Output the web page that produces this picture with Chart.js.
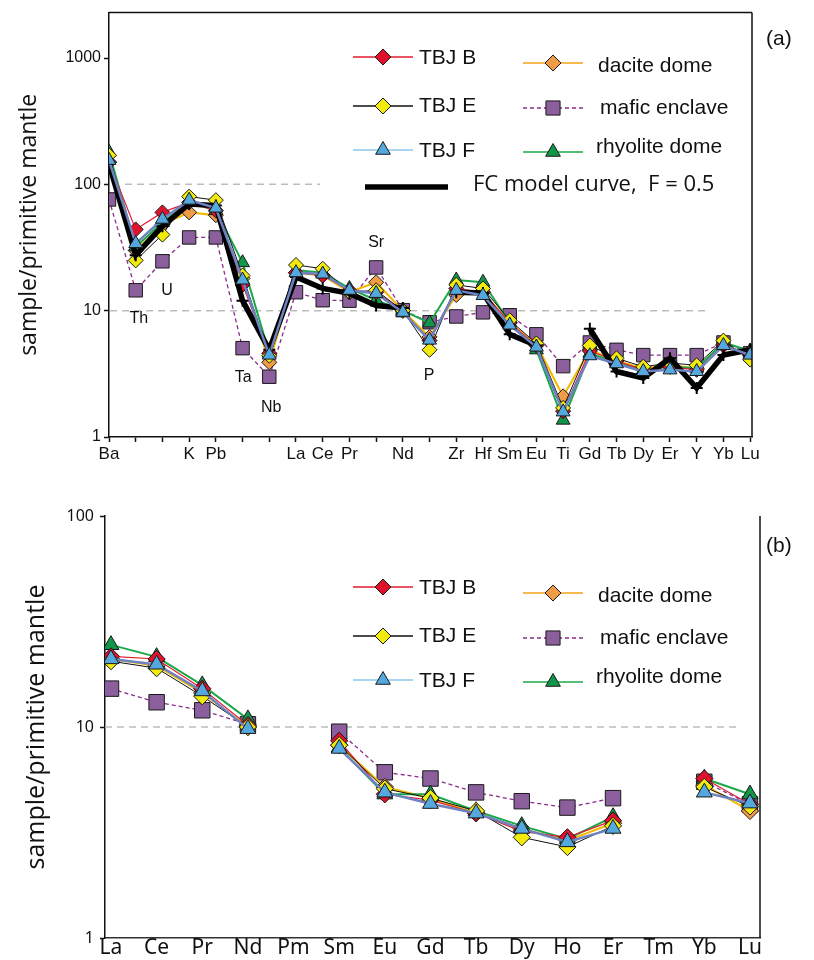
<!DOCTYPE html>
<html>
<head>
<meta charset="utf-8">
<script src="https://cdn.jsdelivr.net/npm/chart.js@4.4.1/dist/chart.umd.min.js"></script>
<style>
  html, body { margin: 0; padding: 0; background: #fff; }
  body { width: 814px; height: 960px; position: relative; overflow: hidden; }
  .panel { position: absolute; left: 0; width: 814px; }
  #panelA { top: 0; height: 470px; }
  #panelB { top: 470px; height: 490px; }
  .tag { position: absolute; font: 21px "Liberation Sans", Arial, sans-serif; color: #111; }
</style>
</head>
<body>
<div class="panel" id="panelA"><canvas id="spiderChart" width="814" height="470"></canvas></div>
<div class="panel" id="panelB"><canvas id="reeChart" width="814" height="490"></canvas></div>
<div class="tag" style="left:766px; top:26px;">(a)</div>
<div class="tag" style="left:766px; top:533px;">(b)</div>

<script>
// ---- panel (a): multi-element spider diagram ----
const spiderElements = ["Ba", "Th", "U", "K", "Pb", "Ta", "Nb", "La", "Ce", "Pr", "Sr", "Nd", "P",
  "Zr", "Hf", "Sm", "Eu", "Ti", "Gd", "Tb", "Dy", "Er", "Y", "Yb", "Lu"];
const spiderTickLabels = ["Ba", "", "", "K", "Pb", "", "", "La", "Ce", "Pr", "", "Nd", "",
  "Zr", "Hf", "Sm", "Eu", "Ti", "Gd", "Tb", "Dy", "Er", "Y", "Yb", "Lu"];
const spiderYTicks = [1, 10, 100, 1000];

const spiderTBJB = [150, 44, 60, 72, 62, 16, 4.6, 20, 19, 14.5, 14, 10, 5.8, 15, 14, 8, 5.3, 1.6, 4.8, 4.0, 3.4, 3.6, 3.4, 5.3, 4.5];
const spiderTBJE = [170, 25, 40, 80, 75, 19, 4.4, 23, 21.5, 14, 14.5, 10, 4.9, 16, 15, 8.4, 5.5, 1.7, 5.3, 4.2, 3.6, 3.85, 3.7, 5.8, 4.1];
const spiderTBJF = [155, 34, 53, 75, 65, 17.5, 4.45, 20, 19.5, 14.5, 13.7, 9.7, 5.85, 14.5, 13.2, 7.7, 5.15, 1.58, 4.4, 3.8, 3.3, 3.4, 3.3, 5.3, 4.45];
const spiderDacite = [150, 30, 48, 60, 57, 18, 3.9, 20, 19, 14, 16.8, 10, 6.2, 13.3, 14, 8, 5.4, 2.1, 4.9, 4.0, 3.5, 3.7, 3.5, 5.4, 4.4];
const spiderMafic = [76, 14.5, 24.6, 38, 38, 5.05, 3.0, 14, 12.1, 12, 22, 10.1, 8.1, 9.0, 9.7, 9.2, 6.5, 3.64, 5.6, 4.9, 4.45, 4.45, 4.45, 5.6, 4.6];
const spiderRhyolite = [180, 32, 50, 72, 62, 24, 4.6, 21, 20, 15, 12.1, 10, 8, 17.5, 16.8, 8, 4.9, 1.36, 4.6, 3.9, 3.4, 3.6, 3.5, 5.6, 4.8];
const spiderFCModel = [145, 27.5, 46.6, 70, 68, 12, 4.9, 18.5, 15, 13.7, 11, 10.5, null, 14, 13.8, 6.5, 5.3, null, 7.2, 3.3, 2.93, 4.2, 2.44, 4.45, 4.9];

// ---- panel (b): REE pattern ----
const reeElements = ["La", "Ce", "Pr", "Nd", "Pm", "Sm", "Eu", "Gd", "Tb", "Dy", "Ho", "Er", "Tm", "Yb", "Lu"];
const reeYTicks = [1, 10, 100];

const reeTBJB = [21.6, 21, 15.2, 10.2, null, 8.6, 4.8, 4.5, 3.9, 3.2, 3.0, 3.6, null, 5.7, 4.3];
const reeTBJE = [20.5, 19, 14, 10, null, 8.2, 5.1, 4.6, 4.0, 3.0, 2.7, 3.4, null, 5.2, 4.2];
const reeTBJF = [21, 19.8, 14.8, 9.8, null, 7.9, 4.9, 4.33, 3.9, 3.3, 2.85, 3.3, null, 4.9, 4.35];
const reeDacite = [21, 19.5, 14.5, 10, null, 8.2, 5.2, 4.6, 3.9, 3.3, 2.9, 3.5, null, 5.3, 4.0];
const reeMafic = [15.2, 13.1, 12.0, 10.3, null, 9.5, 6.1, 5.7, 4.9, 4.45, 4.15, 4.6, null, 5.5, 4.3];
const reeRhyolite = [24.5, 21.5, 15.8, 10.9, null, 8.0, 4.8, 4.8, 4.0, 3.4, 2.95, 3.75, null, 5.7, 4.8];

// ---- shared series look ----
const STYLES = {
  tbjB:     { label: "TBJ B", line: "#e21b2e", legendLine: "#e21b2e", fill: "#e0112b", point: "rectRot", width: 1.2, dash: [], order: 3 },
  tbjE:     { label: "TBJ E", line: "#111111", legendLine: "#111111", fill: "#f1ea0c", point: "rectRot", width: 1, dash: [], order: 2 },
  tbjF:     { label: "TBJ F", line: "#6e82c2", legendLine: "#a9d5f3", fill: "#55a8de", point: "triangle", width: 2.5, dash: [], order: 0 },
  dacite:   { label: "dacite dome", line: "#f4b800", legendLine: "#f5a31a", fill: "#f09b45", point: "rectRot", width: 2, dash: [], order: 5 },
  mafic:    { label: "mafic enclave", line: "#8a2b8e", legendLine: "#8a2b8e", fill: "#8b5f9c", point: "rect", width: 1.3, dash: [4, 3], order: 6 },
  rhyolite: { label: "rhyolite dome", line: "#1ba84a", legendLine: "#1ba84a", fill: "#119548", point: "triangle", width: 2, dash: [], order: 4 }
};
const MARKER_RADIUS = { rectRot: 7.5, triangle: 8, rect: 9.5 };

function buildSeries(values, style, scaleUp) {
  return {
    label: style.label,
    data: values.map((v, i) => ({ x: i, y: v })),
    borderColor: style.line,
    borderWidth: style.width,
    borderDash: style.dash,
    pointStyle: style.point,
    pointRadius: MARKER_RADIUS[style.point] * scaleUp,
    pointBackgroundColor: style.fill,
    pointBorderColor: "#1a1a1a",
    pointBorderWidth: 1,
    spanGaps: false,
    tension: 0,
    order: style.order
  };
}

function buildFCSeries(values) {
  return {
    label: "FC model curve, F = 0.5",
    data: values.map((v, i) => ({ x: i, y: v })),
    borderColor: "#000",
    borderWidth: 5.5,
    pointStyle: "cross",
    pointRadius: 6,
    pointBorderColor: "#000",
    pointBorderWidth: 2,
    spanGaps: false,
    tension: 0,
    order: 1
  };
}

// ---- overlay: frame, dashed guide lines, element notes, legend ----
function markerAt(ctx, style, x, y) {
  ctx.save();
  ctx.fillStyle = style.fill;
  ctx.strokeStyle = "#1a1a1a";
  ctx.lineWidth = 1;
  Chart.helpers.drawPoint(ctx, { pointStyle: style.point, radius: MARKER_RADIUS[style.point] + 0.5, borderWidth: 1, rotation: 0 }, x, y);
  ctx.restore();
}

const overlayPlugin = {
  id: "overlay",
  afterDatasetsDraw(chart, args, opts) {
    const { ctx, chartArea: a, scales } = chart;
    const xs = scales.x, ys = scales.y;

    ctx.save();
    ctx.strokeStyle = "#111";
    ctx.lineWidth = 1.5;
    ctx.beginPath();
    if (opts.boxTop) { ctx.moveTo(a.left, a.top); ctx.lineTo(a.right, a.top); }
    ctx.moveTo(a.right, a.top);
    ctx.lineTo(a.right, a.bottom);
    ctx.stroke();
    ctx.restore();

    (opts.notes || []).forEach(n => {
      ctx.save();
      ctx.font = '16px "Liberation Sans", Arial, sans-serif';
      ctx.fillStyle = "#111";
      ctx.textAlign = "center";
      ctx.textBaseline = "middle";
      ctx.fillText(n.text, xs.getPixelForValue(n.x), ys.getPixelForValue(n.y));
      ctx.restore();
    });

    (opts.legend || []).forEach(item => {
      ctx.save();
      if (item.fc) {
        ctx.strokeStyle = "#000";
        ctx.lineWidth = 5.5;
        ctx.beginPath();
        ctx.moveTo(item.x0, item.y);
        ctx.lineTo(item.x1, item.y);
        ctx.stroke();
        ctx.font = '22px "Open Sans", "Liberation Sans", sans-serif';
      } else {
        const s = STYLES[item.key];
        ctx.strokeStyle = s.legendLine;
        ctx.lineWidth = item.key === "tbjF" ? 2 : 1.5;
        ctx.setLineDash(s.dash);
        ctx.beginPath();
        ctx.moveTo(item.mx - 30, item.y);
        ctx.lineTo(item.mx + 30, item.y);
        ctx.stroke();
        ctx.setLineDash([]);
        markerAt(ctx, s, item.mx, item.y);
        ctx.font = '21px "Liberation Sans", Arial, sans-serif';
      }
      ctx.fillStyle = "#111";
      ctx.textAlign = "left";
      ctx.textBaseline = "middle";
      ctx.fillText(item.fc ? "FC model curve,  F = 0.5" : STYLES[item.key].label, item.tx, item.ty);
      ctx.restore();
    });
  },
  beforeDatasetsDraw(chart, args, opts) {
    const { ctx, scales } = chart;
    (opts.guides || []).forEach(g => {
      const y = scales.y.getPixelForValue(g.value);
      ctx.save();
      ctx.strokeStyle = "#bdbdbd";
      ctx.lineWidth = 1.5;
      ctx.setLineDash([7, 5]);
      ctx.beginPath();
      ctx.moveTo(scales.x.getPixelForValue(g.from), y);
      ctx.lineTo(scales.x.getPixelForValue(g.to), y);
      ctx.stroke();
      ctx.restore();
    });
  }
};

function legendLayout(dy) {
  return [
    { key: "tbjB", mx: 383, y: 57 + dy, tx: 419, ty: 58 + dy },
    { key: "tbjE", mx: 383, y: 106 + dy, tx: 419, ty: 106 + dy },
    { key: "tbjF", mx: 383, y: 150 + dy, tx: 419, ty: 151 + dy },
    { key: "dacite", mx: 553, y: 63 + dy, tx: 598, ty: 66 + dy },
    { key: "mafic", mx: 553, y: 108 + dy, tx: 600, ty: 108 + dy },
    { key: "rhyolite", mx: 553, y: 152 + dy, tx: 596, ty: 147 + dy }
  ];
}

function logAxis(ticks, max, width, tickFont, tickPad, titleSize, titlePad) {
  return {
    type: "logarithmic",
    min: 1,
    max: max,
    afterBuildTicks: scale => { scale.ticks = ticks.map(v => ({ value: v })); },
    afterFit: scale => { scale.width = width; },
    ticks: { callback: v => String(v), font: tickFont, color: "#111", padding: tickPad },
    grid: { drawOnChartArea: false, drawTicks: true, tickLength: 5, tickColor: "#111", tickWidth: 1.5 },
    border: { display: true, color: "#111", width: 1.5 },
    title: {
      display: true,
      text: "sample/primitive mantle",
      color: "#111",
      font: { family: '"Open Sans", "Noto Sans", sans-serif', size: titleSize },
      padding: { top: titlePad, bottom: 0 }
    }
  };
}

Chart.defaults.animation = false;

// panel (a)
new Chart(document.getElementById("spiderChart").getContext("2d"), {
  type: "line",
  data: {
    datasets: [
      buildSeries(spiderMafic, STYLES.mafic, 1),
      buildSeries(spiderDacite, STYLES.dacite, 1),
      buildSeries(spiderRhyolite, STYLES.rhyolite, 1),
      buildSeries(spiderTBJB, STYLES.tbjB, 1),
      buildSeries(spiderTBJE, STYLES.tbjE, 1),
      buildFCSeries(spiderFCModel),
      buildSeries(spiderTBJF, STYLES.tbjF, 1)
    ]
  },
  options: {
    responsive: false,
    layout: { padding: { left: 0, right: 62, top: 12, bottom: 0 } },
    plugins: {
      legend: { display: false },
      tooltip: { enabled: false },
      overlay: {
        boxTop: true,
        guides: [{ value: 100, from: 0.6, to: 7.9 }, { value: 10, from: 0.04, to: 22.35 }],
        notes: [
          { text: "Th", x: 1.12, y: 8.7 },
          { text: "U", x: 2.17, y: 14.5 },
          { text: "Ta", x: 5.02, y: 2.93 },
          { text: "Nb", x: 6.07, y: 1.7 },
          { text: "Sr", x: 10, y: 34.8 },
          { text: "P", x: 11.98, y: 3.04 }
        ],
        legend: legendLayout(0).concat([{ fc: true, x0: 365, x1: 448, y: 187, tx: 473, ty: 185 }])
      }
    },
    scales: {
      x: {
        type: "linear",
        min: 0,
        max: 24.07,
        afterBuildTicks: scale => { scale.ticks = spiderElements.map((_, i) => ({ value: i })); },
        afterFit: scale => { scale.height = 33; },
        ticks: {
          autoSkip: false,
          maxRotation: 0,
          padding: 2,
          color: "#111",
          font: { family: '"Liberation Sans Narrow", "Liberation Sans", sans-serif', size: 17 },
          callback: v => spiderTickLabels[v] ?? ""
        },
        grid: { drawOnChartArea: false, drawTicks: true, tickLength: 5, tickColor: "#111", tickWidth: 1.5 },
        border: { display: true, color: "#111", width: 1.5 }
      },
      y: logAxis(spiderYTicks, 2290, 109, { family: '"Liberation Sans", Arial, sans-serif', size: 16 }, 3, 23, 16)
    }
  },
  plugins: [overlayPlugin]
});

// panel (b)
new Chart(document.getElementById("reeChart").getContext("2d"), {
  type: "line",
  data: {
    datasets: [
      buildSeries(reeMafic, STYLES.mafic, 1.15),
      buildSeries(reeDacite, STYLES.dacite, 1.15),
      buildSeries(reeRhyolite, STYLES.rhyolite, 1.15),
      buildSeries(reeTBJB, STYLES.tbjB, 1.15),
      buildSeries(reeTBJE, STYLES.tbjE, 1.15),
      buildSeries(reeTBJF, STYLES.tbjF, 1.15)
    ]
  },
  options: {
    responsive: false,
    layout: { padding: { left: 0, right: 54, top: 46, bottom: 0 } },
    plugins: {
      legend: { display: false },
      tooltip: { enabled: false },
      overlay: {
        boxTop: false,
        guides: [{ value: 10, from: -0.13, to: 13.78 }],
        legend: legendLayout(60)
      }
    },
    scales: {
      x: {
        type: "linear",
        min: -0.131,
        max: 14.22,
        afterBuildTicks: scale => { scale.ticks = reeElements.map((_, i) => ({ value: i })); },
        afterFit: scale => { scale.height = 22; },
        ticks: {
          autoSkip: false,
          maxRotation: 0,
          padding: -3,
          color: "#111",
          font: { family: '"Noto Sans", "Open Sans", sans-serif', size: 21 },
          callback: v => reeElements[v] ?? ""
        },
        grid: { drawOnChartArea: false, drawTicks: false },
        border: { display: true, color: "#333", width: 1.5 }
      },
      y: logAxis(reeYTicks, 100, 105, { family: '"Noto Sans", "Open Sans", sans-serif', size: 16 }, 6, 25, 22)
    }
  },
  plugins: [overlayPlugin]
});
</script>
</body>
</html>
